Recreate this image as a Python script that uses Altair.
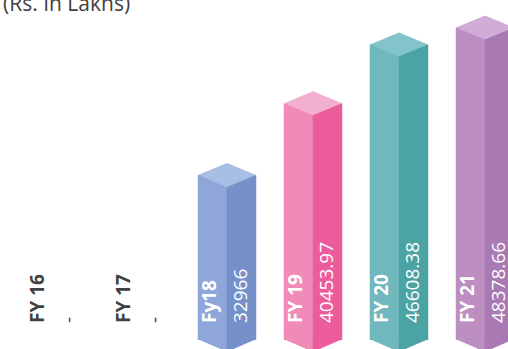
import altair as alt
import pandas as pd

categories = ["FY 16", "FY 17", "Fy18", "FY 19", "FY 20", "FY 21"]
values = [None, None, 32966, 40453.97, 46608.38, 48378.66]
value_labels = ["-", "-", "32966", "40453.97", "46608.38", "48378.66"]
title_text = "(Rs. In Lakhs)"

left_colors = ["#8EA7D8", "#8EA7D8", "#8EA7D8", "#F08BB8", "#70B8BD", "#BC8EC2"]
right_colors = ["#7690C9", "#7690C9", "#7690C9", "#EC5C9C", "#4BA3A3", "#A879B2"]
top_colors = ["#A8BEE5", "#A8BEE5", "#A8BEE5", "#F3AFD0", "#82C4CA", "#D1ACD9"]

BASE = 15700
df = pd.DataFrame({"cat": categories, "value": values, "vlabel": value_labels})

x = alt.X("cat:N", sort=categories, axis=None,
          scale=alt.Scale(type="point", padding=0))
yscale = alt.Scale(domain=[BASE, 50000], zero=False, nice=False)

base = alt.Chart(df)
bars = base.transform_filter("isValid(datum.value)")

def col(rng):
    return alt.Color("cat:N", scale=alt.Scale(domain=categories, range=rng), legend=None)

left = bars.mark_bar(width=29.5, xOffset=-14.5).encode(
    x=x, y=alt.Y("value:Q", scale=yscale, axis=None), y2=alt.datum(BASE), color=col(left_colors))
right = bars.mark_bar(width=29.5, xOffset=14.5).encode(
    x=x, y=alt.Y("value:Q", scale=yscale, axis=None), y2=alt.datum(BASE), color=col(right_colors))

tri_l = "M -1 -0.03 L 0.01 -0.03 L 0.01 0.414 Z"
tri_r = "M -0.01 -0.03 L 1 -0.03 L -0.01 0.414 Z"
diamond = "M -1 0 L 0 -0.414 L 1 0 L 0 0.414 Z"

bot_l = bars.mark_point(shape=tri_l, size=3364, filled=True, opacity=1, strokeWidth=0).encode(
    x=x, y=alt.Y(datum=BASE, scale=yscale, axis=None), color=col(left_colors))
bot_r = bars.mark_point(shape=tri_r, size=3364, filled=True, opacity=1, strokeWidth=0).encode(
    x=x, y=alt.Y(datum=BASE, scale=yscale, axis=None), color=col(right_colors))
top = bars.mark_point(shape=diamond, size=3364, filled=True, opacity=1, strokeWidth=0).encode(
    x=x, y=alt.Y("value:Q", scale=yscale, axis=None), color=col(top_colors))

cond_color = alt.condition("isValid(datum.value)", alt.value("white"), alt.value("#404040"))

cat_text = base.mark_text(angle=270, align="left", baseline="middle", font="Open Sans",
                          fontSize=19, fontWeight="bold", xOffset=-17, yOffset=-17).encode(
    x=x, y=alt.Y(datum=BASE, scale=yscale, axis=None), text="cat:N", color=cond_color)
val_text = base.mark_text(angle=270, align="left", baseline="middle", font="Open Sans",
                          fontSize=19, xOffset=14, yOffset=-17).encode(
    x=x, y=alt.Y(datum=BASE, scale=yscale, axis=None), text="vlabel:N", color=cond_color)

title = alt.Chart(pd.DataFrame({"t": [title_text]})).mark_text(
    align="left", baseline="alphabetic", font="Open Sans", fontSize=21, color="#404040"
).encode(x=alt.value(-52), y=alt.value(-1), text="t:N")

chart = alt.layer(left, right, bot_l, bot_r, top, cat_text, val_text, title).resolve_scale(
    color="independent"
).properties(
    width=430, height=328,
    padding={"left": 55, "right": 23, "top": 12, "bottom": 9},
    autosize="none",
    background="white",
).configure_view(strokeWidth=0, stroke="transparent")

chart.save("out.html", embed_options={"renderer": "svg", "actions": False})
